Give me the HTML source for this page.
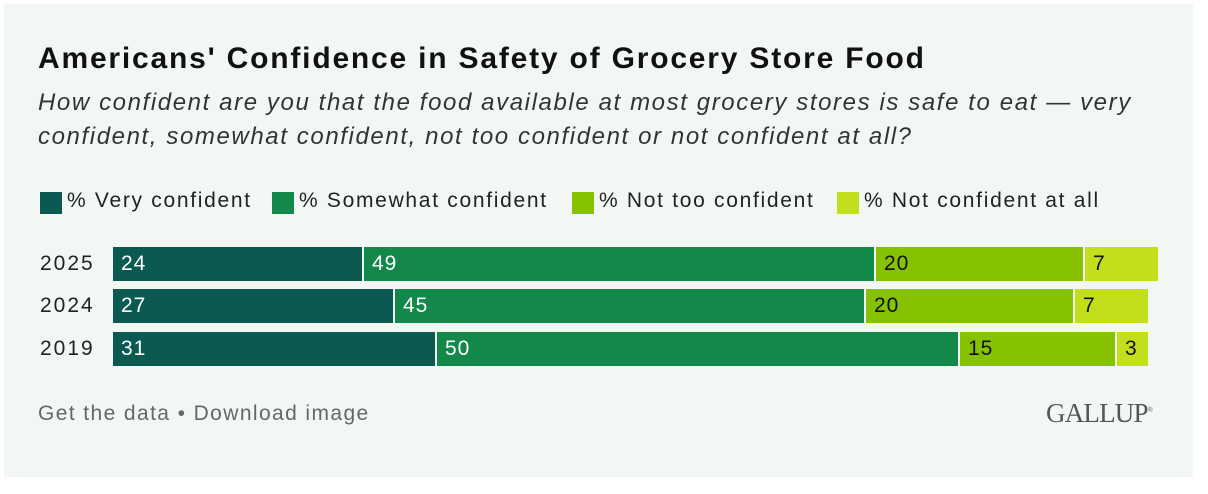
<!DOCTYPE html>
<html><head><meta charset="utf-8"><style>
body{margin:0;width:1208px;height:494px;background:#fff;font-family:"Liberation Sans",sans-serif;position:relative;overflow:hidden}
.panel{position:absolute;left:4px;top:4px;width:1189px;height:473px;background:#f3f7f3}
.t{position:absolute;white-space:nowrap}
.sq{position:absolute;width:22px;height:22px;top:192px}
.lg{position:absolute;top:189px;font-size:21px;color:#222;letter-spacing:1.7px;white-space:nowrap}
.bar{position:absolute;height:34px;color:#fff;font-size:21px;line-height:34px;box-sizing:border-box;padding-left:8px;letter-spacing:1px}
.y{position:absolute;left:40px;font-size:21px;color:#222;line-height:34px;letter-spacing:2px}
</style></head><body>
<div class="panel"></div>
<div class="t" style="left:38px;top:42px;font-size:30px;font-weight:bold;color:#111;letter-spacing:1.8px">Americans' Confidence in Safety of Grocery Store Food</div>
<div class="t" style="left:38px;top:86px;font-size:24px;font-style:italic;color:#333;line-height:34px;letter-spacing:1.6px">How confident are you that the food available at most grocery stores is safe to eat — very<br>confident, somewhat confident, not too confident or not confident at all?</div>
<div class="sq" style="left:40px;background:#0a5a52"></div>
<div class="lg" style="left:67px">% Very confident</div>
<div class="sq" style="left:272px;background:#12884a"></div>
<div class="lg" style="left:299px">% Somewhat confident</div>
<div class="sq" style="left:572px;background:#86c200"></div>
<div class="lg" style="left:599px">% Not too confident</div>
<div class="sq" style="left:837px;background:#c3de1b"></div>
<div class="lg" style="left:864px">% Not confident at all</div>

<div class="y" style="top:247px">2025</div>
<div class="bar" style="top:247px;left:113px;width:249px;background:#0a5a52">24</div>
<div class="bar" style="top:247px;left:364px;width:510px;background:#12884a">49</div>
<div class="bar" style="top:247px;left:876px;width:207px;background:#86c200;color:#111">20</div>
<div class="bar" style="top:247px;left:1085px;width:73px;background:#c3de1b;color:#111">7</div>

<div class="y" style="top:289px">2024</div>
<div class="bar" style="top:289px;left:113px;width:280px;background:#0a5a52">27</div>
<div class="bar" style="top:289px;left:395px;width:469px;background:#12884a">45</div>
<div class="bar" style="top:289px;left:866px;width:207px;background:#86c200;color:#111">20</div>
<div class="bar" style="top:289px;left:1075px;width:73px;background:#c3de1b;color:#111">7</div>

<div class="y" style="top:332px">2019</div>
<div class="bar" style="top:332px;left:113px;width:322px;background:#0a5a52">31</div>
<div class="bar" style="top:332px;left:437px;width:521px;background:#12884a">50</div>
<div class="bar" style="top:332px;left:960px;width:155px;background:#86c200;color:#111">15</div>
<div class="bar" style="top:332px;left:1117px;width:31px;background:#c3de1b;color:#111">3</div>

<div class="t" style="left:38px;top:402px;font-size:21px;color:#666;letter-spacing:1.4px">Get the data • Download image</div>
<div class="t" style="left:1046px;top:398px;font-size:27px;color:#555;font-family:'Liberation Serif',serif;letter-spacing:-0.8px">GALLUP<sup style="font-size:7px">®</sup></div>
</body></html>
